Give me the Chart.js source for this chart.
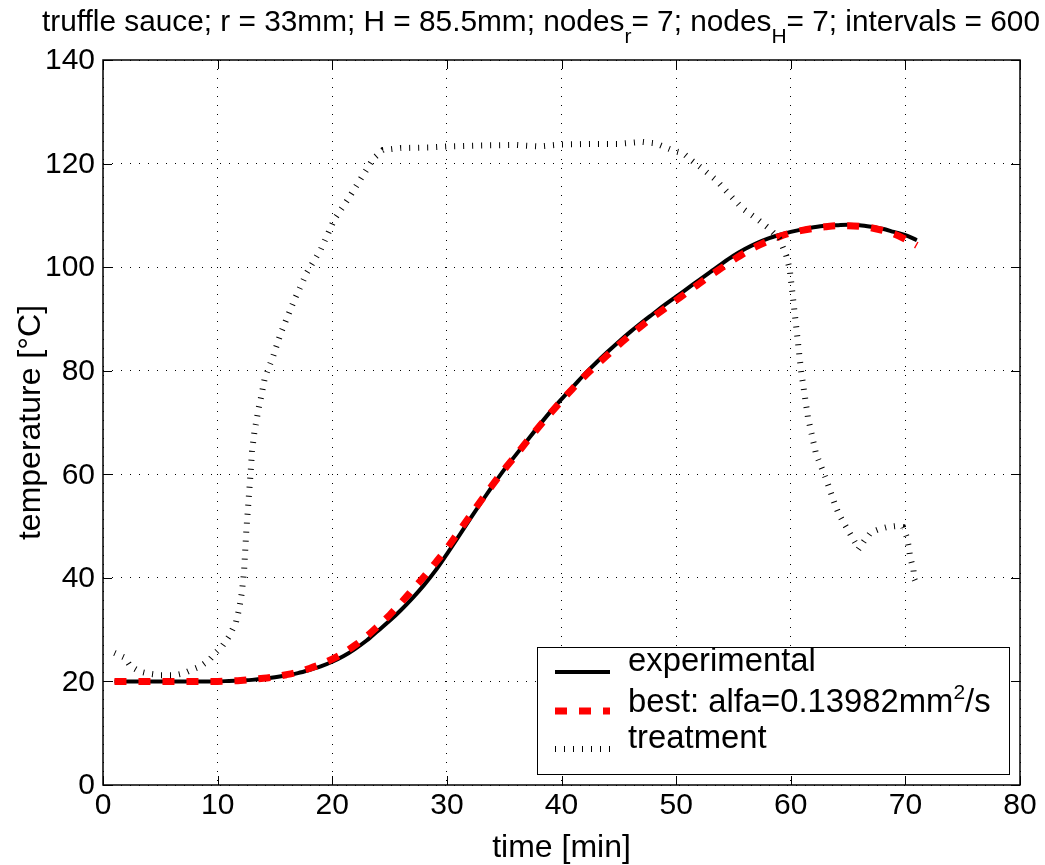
<!DOCTYPE html>
<html>
<head>
<meta charset="utf-8">
<script src="https://cdn.jsdelivr.net/npm/chart.js@4/dist/chart.umd.min.js"></script>
<style>
  body { margin: 0; background: #fff; }
  #wrap { width: 1045px; height: 865px; }
</style>
</head>
<body>
<div id="wrap"><canvas id="chart" width="1045" height="865"></canvas></div>
<script>
// time axis of the measured / fitted curves [min]
const timeExp = [1, 2, 3, 4, 5, 6, 7, 8, 9, 10, 11, 12, 13, 14, 15, 16, 17, 18, 19, 20,
  21, 22, 23, 24, 25, 26, 27, 28, 29, 30, 31, 32, 33, 34, 35, 36, 37, 38, 39, 40,
  41, 42, 43, 44, 45, 46, 47, 48, 49, 50, 51, 52, 53, 54, 55, 56, 57, 58, 59, 60,
  61, 62, 63, 64, 65, 66, 67, 68, 69, 70, 71];

const tempExperimental = [20.0, 20.0, 20.0, 20.0, 20.0, 20.0, 20.0, 20.0, 20.0, 20.0,
  20.1, 20.2, 20.3, 20.5, 20.8, 21.2, 21.6, 22.2, 22.9, 23.8,
  24.9, 26.3, 27.9, 29.8, 31.7, 33.8, 36.1, 38.6, 41.4, 44.6,
  47.9, 51.3, 54.6, 57.8, 60.9, 63.7, 66.5, 69.3, 72.0, 74.5,
  76.9, 79.3, 81.5, 83.6, 85.6, 87.5, 89.3, 91.0, 92.7, 94.3,
  95.9, 97.5, 99.1, 100.7, 102.2, 103.5, 104.6, 105.5, 106.2, 106.8,
  107.3, 107.7, 108.0, 108.1, 108.2, 108.1, 107.8, 107.4, 106.8, 106.2, 105.2];

const tempBest = [20.0, 20.0, 20.0, 20.0, 20.0, 20.0, 20.0, 20.0, 20.0, 20.0,
  20.1, 20.2, 20.4, 20.6, 20.9, 21.3, 21.8, 22.5, 23.3, 24.3,
  25.5, 27.0, 28.7, 30.7, 32.8, 35.2, 37.7, 40.2, 42.9, 45.7,
  48.8, 51.9, 55.0, 58.0, 60.9, 63.6, 66.4, 69.1, 71.7, 74.2,
  76.6, 78.9, 81.0, 83.0, 85.0, 86.9, 88.7, 90.4, 92.0, 93.6,
  95.2, 96.8, 98.4, 99.9, 101.4, 102.8, 104.0, 105.0, 105.9, 106.6,
  107.1, 107.5, 107.8, 108.0, 108.0, 107.9, 107.6, 107.1, 106.4, 105.4, 104.2];

// retort treatment temperature
const timeTreatment = [1, 1.9, 2.4, 3.2, 4, 5, 6.3, 7.1, 7.8, 8.5,
  9.3, 9.8, 10.4, 11, 11.6, 11.9, 12.1, 12.3, 12.5, 12.7,
  12.9, 13.0, 13.2, 13.4, 13.6, 13.8, 14.1, 14.4, 14.8, 15.5,
  16.7, 17.8, 19, 20.2, 21.4, 22.5, 23.6, 24.4, 26, 28.4,
  30, 33, 36, 38, 40, 43, 45, 47, 48.2, 49.9,
  50.6, 51.3, 52.3, 53.5, 54.7, 55.8, 57, 58.1, 59, 59.6,
  59.9, 60.1, 60.5, 60.9, 61.5, 62.2, 63.1, 63.6, 63.9, 64.2,
  64.6, 65.1, 65.7, 65.9, 66.4, 67, 67.7, 68.4, 69.2, 69.8,
  70.1, 70.3, 70.4, 70.7, 70.8, 71];
const tempTreatment = [25.5, 24.6, 22.9, 21.9, 21.5, 21.2, 21.2, 21.6, 22.3, 22.9,
  24.2, 25.5, 26.8, 28.7, 31.4, 34.2, 37, 41, 49, 55,
  61, 64.4, 68, 70.5, 73, 75, 78.4, 80.3, 82.5, 87.2,
  93.7, 99, 103.4, 109.3, 113.2, 117.1, 121, 122.6, 123, 123.1,
  123.3, 123.5, 123.6, 123.3, 123.7, 123.8, 123.8, 124.2, 123.9, 122.4,
  122, 120.7, 119, 116.8, 113.9, 111.3, 109.4, 107.5, 105.5, 102.3,
  99.7, 95.9, 88, 80, 71, 64, 59, 55.8, 53.9, 52.3,
  50.7, 48.8, 46.5, 45.5, 47.1, 48.8, 49.4, 49.8, 50, 49.8,
  48, 46, 44.2, 41.6, 39.7, 38.7];

const xTicks = [0, 10, 20, 30, 40, 50, 60, 70, 80];
const yTicks = [0, 20, 40, 60, 80, 100, 120, 140];

const FONT = '"Liberation Sans", Arial, Helvetica, sans-serif';

function pts(xs, ys) {
  return xs.map((x, i) => ({ x: x, y: ys[i] }));
}

function text(ctx, str, x, y, size, align, baseline) {
  ctx.font = size + 'px ' + FONT;
  ctx.textAlign = align;
  ctx.textBaseline = baseline;
  ctx.fillText(str, x, y);
}

// runs of [text, size, dy], drawn left to right from x
function richText(ctx, parts, x, y) {
  let cx = x;
  ctx.textAlign = 'left';
  ctx.textBaseline = 'alphabetic';
  parts.forEach(p => {
    ctx.font = p[1] + 'px ' + FONT;
    ctx.fillText(p[0], cx, y + p[2]);
    cx += ctx.measureText(p[0]).width;
  });
}

const matlabFrame = {
  id: 'matlabFrame',
  afterDraw(chart) {
    const ctx = chart.ctx;
    const a = chart.chartArea;
    const xs = chart.scales.x, ys = chart.scales.y;
    ctx.save();
    ctx.fillStyle = '#000';
    ctx.strokeStyle = '#000';

    // frame + inward ticks
    ctx.lineWidth = 1.5;
    ctx.strokeRect(a.left, a.top, a.right - a.left, a.bottom - a.top);
    ctx.lineWidth = 1;
    ctx.beginPath();
    xTicks.forEach(v => {
      const px = Math.round(xs.getPixelForValue(v)) + 0.5;
      ctx.moveTo(px, a.bottom); ctx.lineTo(px, a.bottom - 9);
      ctx.moveTo(px, a.top); ctx.lineTo(px, a.top + 9);
    });
    yTicks.forEach(v => {
      const py = Math.round(ys.getPixelForValue(v)) + 0.5;
      ctx.moveTo(a.left, py); ctx.lineTo(a.left + 9, py);
      ctx.moveTo(a.right, py); ctx.lineTo(a.right - 9, py);
    });
    ctx.stroke();

    // tick labels
    xTicks.forEach(v => text(ctx, String(v), xs.getPixelForValue(v), a.bottom + 6, 30, 'center', 'top'));
    yTicks.forEach(v => text(ctx, String(v), a.left - 8, ys.getPixelForValue(v) + 1, 30, 'right', 'middle'));

    // axis titles
    text(ctx, 'time [min]', (a.left + a.right) / 2, 848, 32, 'center', 'middle');
    ctx.save();
    ctx.translate(31, (a.top + a.bottom) / 2);
    ctx.rotate(-Math.PI / 2);
    text(ctx, 'temperature [°C]', 0, 0, 32, 'center', 'middle');
    ctx.restore();

    // title with subscripts
    richText(ctx, [
      ['truffle sauce; r = 33mm; H = 85.5mm; nodes', 29.8, 0],
      ['r', 21, 12],
      ['= 7; nodes', 29.8, 0],
      ['H', 21, 12],
      ['= 7; intervals = 600', 29.8, 0]
    ], 42, 31);

    // legend box
    const lx = 537, ly = 647, lw = 472, lh = 127;
    ctx.fillStyle = '#fff';
    ctx.fillRect(lx, ly, lw, lh);
    ctx.lineWidth = 1;
    ctx.strokeStyle = '#000';
    ctx.strokeRect(lx + 0.5, ly + 0.5, lw, lh);

    const rows = [672, 711, 749];
    chart.data.datasets.forEach((ds, i) => {
      ctx.save();
      ctx.strokeStyle = ds.borderColor;
      ctx.lineWidth = ds.borderWidth;
      ctx.setLineDash(ds.borderDash || []);
      ctx.beginPath();
      ctx.moveTo(555, rows[i]);
      ctx.lineTo(610, rows[i]);
      ctx.stroke();
      ctx.restore();
    });
    ctx.fillStyle = '#000';
    richText(ctx, [['experimental', 32.8, 0]], 628, rows[0] - 1);
    richText(ctx, [['best: alfa=0.13982mm', 32.8, 0], ['2', 21, -13], ['/s', 32.8, 0]], 628, rows[1] + 1);
    richText(ctx, [['treatment', 32.8, 0]], 628, rows[2] - 1);
    ctx.restore();
  }
};

new Chart(document.getElementById('chart'), {
  type: 'line',
  data: {
    datasets: [
      {
        label: 'experimental',
        data: pts(timeExp, tempExperimental),
        borderColor: '#000',
        borderWidth: 4,
        pointRadius: 0,
        cubicInterpolationMode: 'monotone',
        order: 2
      },
      {
        label: 'best: alfa=0.13982mm²/s',
        data: pts(timeExp, tempBest),
        borderColor: '#ff0000',
        borderWidth: 7,
        borderDash: [12, 12],
        pointRadius: 0,
        cubicInterpolationMode: 'monotone',
        order: 1
      },
      {
        label: 'treatment',
        data: pts(timeTreatment, tempTreatment),
        borderColor: '#000',
        borderWidth: 6,
        borderDash: [1, 8],
        pointRadius: 0,
        tension: 0,
        order: 0
      }
    ]
  },
  options: {
    responsive: false,
    animation: false,
    layout: { padding: { top: 60, right: 25, left: 0, bottom: 0 } },
    plugins: { legend: { display: false }, tooltip: { enabled: false }, title: { display: false } },
    scales: {
      x: {
        type: 'linear',
        min: 0, max: 80,
        afterBuildTicks: s => { s.ticks = xTicks.map(v => ({ value: v })); },
        afterFit: s => { s.height = 80; },
        ticks: { display: false },
        grid: { color: '#000', lineWidth: 1, drawTicks: false },
        border: { display: false, dash: [1, 8] }
      },
      y: {
        type: 'linear',
        min: 0, max: 140,
        afterBuildTicks: s => { s.ticks = yTicks.map(v => ({ value: v })); },
        afterFit: s => { s.width = 103; },
        ticks: { display: false },
        grid: { color: '#000', lineWidth: 1, drawTicks: false },
        border: { display: false, dash: [1, 8] }
      }
    }
  },
  plugins: [matlabFrame]
});
</script>
</body>
</html>
